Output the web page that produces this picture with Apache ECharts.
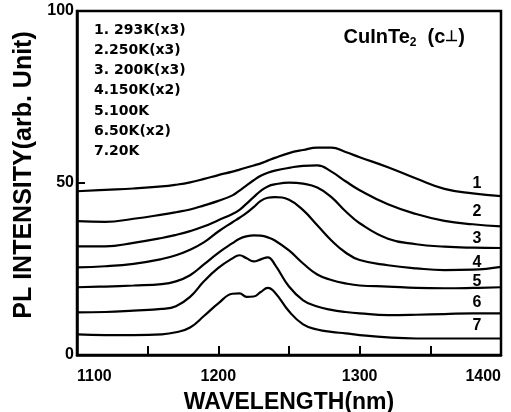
<!DOCTYPE html>
<html>
<head>
<meta charset="utf-8">
<script src="https://cdn.jsdelivr.net/npm/echarts@6/dist/echarts.min.js"></script>
<style>html,body{margin:0;padding:0;background:#fff}#chart{width:511px;height:412px}</style>
</head>
<body>
<div id="chart"></div>
<script>
// ---- data ----
const wavelength = [1100,1120,1140,1160,1170,1180,1190,1200,1210,1215,1220,1225,1230,1235,1240,1250,1260,1270,1280,1290,1300,1320,1340,1360,1380,1400];
const curve1 = [47.6,48.0,48.4,49.0,49.5,50.2,51.2,52.3,53.3,53.9,54.5,55.1,55.7,56.5,57.3,58.7,59.6,60.3,60.3,59.0,57.5,54.6,51.3,48.3,47.0,46.2];
const curve2 = [38.9,38.7,39.6,40.8,41.5,42.3,43.5,44.8,46.4,47.8,49.3,50.8,52.1,53.0,53.6,54.4,55.0,55.1,53.3,50.5,47.9,43.8,41.0,39.0,38.0,37.4];
const curve3 = [31.6,31.6,32.6,34.0,34.9,36.0,37.4,39.2,41.0,42.2,44.0,45.9,47.7,49.0,49.6,50.1,49.8,48.7,45.9,41.8,38.3,33.8,32.2,31.5,31.2,31.1];
const curve4 = [25.5,25.8,26.5,27.9,29.0,30.6,32.8,35.9,38.6,39.9,41.3,43.0,44.8,45.7,45.9,45.1,42.1,37.7,33.3,29.8,27.6,26.1,25.2,24.7,24.8,25.6];
const curve5 = [19.7,19.9,20.2,20.6,21.4,23.2,26.4,29.7,32.5,33.8,34.5,34.8,34.7,34.2,33.3,30.4,26.6,23.4,21.8,20.8,20.2,19.9,19.5,19.4,19.5,19.7];
const curve6 = [12.4,12.5,12.9,13.4,14.2,16.9,21.5,25.3,28.1,29.0,28.1,27.2,27.8,28.4,26.3,19.9,15.9,14.1,13.1,12.5,12.1,11.6,11.7,11.9,12.1,12.1];
const curve7 = [6.0,5.8,5.8,6.0,6.6,8.0,11.4,15.0,17.8,17.9,16.9,17.0,18.3,19.5,18.2,12.7,8.9,7.4,6.7,6.3,5.8,5.1,4.8,4.8,4.8,4.8];
const curveNames = ['1','2','3','4','5','6','7'];
const curveLabelX = 1383;
const curveLabelY = [49.9, 41.8, 33.9, 26.9, 21.4, 15.3, 8.6];
const legendLines = ['1. 293K(x3)','2.250K(x3)','3. 200K(x3)','4.150K(x2)','5.100K','6.50K(x2)','7.20K'];
const xTicks = [1100, 1200, 1300, 1400];
const yTicks = [0, 50, 100];
// ---------------------------------------

const curves = [curve1, curve2, curve3, curve4, curve5, curve6, curve7];
const FONT = '"Liberation Sans", Arial, sans-serif';

const series = curves.map((c, i) => ({
  type: 'line',
  name: curveNames[i],
  data: wavelength.map((w, j) => [w, c[j]]),
  smooth: 0.45,
  showSymbol: false,
  symbol: 'none',
  lineStyle: { color: '#000', width: 2.2 },
  silent: true,
  markPoint: {
    symbol: 'circle',
    symbolSize: 0,
    silent: true,
    data: [{ coord: [curveLabelX, curveLabelY[i]], value: curveNames[i] }],
    label: { show: true, position: 'inside', formatter: curveNames[i], color: '#000', fontFamily: FONT, fontWeight: 'bold', fontSize: 16 }
  }
}));

const chart = echarts.init(document.getElementById('chart'), null, { renderer: 'canvas' });
chart.setOption({
  animation: false,
  backgroundColor: '#fff',
  title: [
    {
      text: legendLines.join('\n'),
      left: 89, top: 15,
      textStyle: { fontFamily: '"DejaVu Sans", sans-serif', fontWeight: 'bold', fontSize: 14, lineHeight: 20.2, color: '#000' }
    },
    {
      text: '{a|CuInTe}{s|2}{a|  (c}{p|\u22A5}{a|)}',
      right: 41, top: 20,
      textStyle: {
        rich: {
          a: { fontFamily: FONT, fontWeight: 'bold', fontSize: 20, lineHeight: 24, color: '#000' },
          p: { fontFamily: FONT, fontWeight: 'bold', fontSize: 15, lineHeight: 24, color: '#000' },
          s: { fontFamily: FONT, fontWeight: 'bold', fontSize: 12, lineHeight: 12, verticalAlign: 'bottom', color: '#000' }
        }
      }
    }
  ],
  grid: { left: 77, right: 10, top: 11, bottom: 57, show: true, borderColor: '#000', borderWidth: 2.5, backgroundColor: 'transparent', containLabel: false, outerBoundsMode: 'none' },
  xAxis: {
    type: 'value', min: 1100, max: 1400, interval: 50,
    name: 'WAVELENGTH(nm)', nameLocation: 'middle', nameGap: 36,
    nameTextStyle: { fontFamily: FONT, fontWeight: 'bold', fontSize: 23, color: '#000' },
    axisLine: { show: true, lineStyle: { color: '#000', width: 2.5 } },
    axisTick: { show: true, inside: true, length: 9, lineStyle: { color: '#000', width: 2 } },
    splitLine: { show: false },
    axisLabel: {
      margin: 14, color: '#000', fontFamily: FONT, fontWeight: 'bold', fontSize: 16,
      alignMinLabel: 'left', alignMaxLabel: 'right',
      formatter: v => (xTicks.indexOf(v) >= 0 ? String(v) : '')
    }
  },
  yAxis: {
    type: 'value', min: 0, max: 100, interval: 50,
    name: 'PL INTENSITY(arb. Unit)', nameLocation: 'middle', nameGap: 40,
    nameTextStyle: { fontFamily: FONT, fontWeight: 'bold', fontSize: 25, color: '#000', padding: [0, 0, 0, 16] },
    axisLine: { show: true, lineStyle: { color: '#000', width: 2.5 } },
    axisTick: { show: true, inside: true, length: 8, lineStyle: { color: '#000', width: 2 } },
    splitLine: { show: false },
    axisLabel: {
      margin: 3, color: '#000', fontFamily: FONT, fontWeight: 'bold', fontSize: 16,
      formatter: v => (yTicks.indexOf(v) >= 0 ? String(v) : '')
    }
  },
  series: series
});
</script>
</body>
</html>
